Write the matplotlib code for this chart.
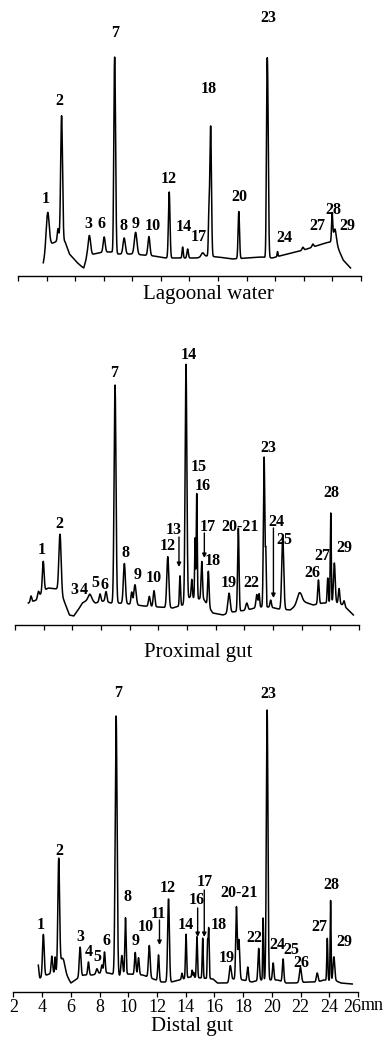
import numpy as np
import matplotlib
matplotlib.use("Agg")
import matplotlib.pyplot as plt
from matplotlib.transforms import ScaledTranslation

# ---------------- data ----------------
panel_titles = ["Lagoonal water", "Proximal gut", "Distal gut"]
tick_values = [2, 4, 6, 8, 10, 12, 14, 16, 18, 20, 22, 24, 26]
tick_labels = ["2", "4", "6", "8", "10", "12", "14", "16", "18", "20", "22", "24", "26"]
unit_label = "mn"

# Lagoonal water: baseline (time, signal) and peaks (time, amplitude, width)
lag_base_t = [3.77, 3.95, 4.3, 4.9, 5.3, 5.6, 6.1, 6.4, 6.6, 6.8, 7.3, 8.0, 8.6, 9.0, 10.0, 11.5, 12.3,
              13.0, 14.5, 15.2, 16.0, 17.0, 18.0, 19.0, 19.8, 20.3, 22.0, 23.5, 24.2, 24.45, 24.75, 25.27]
lag_base_h = [13, 25, 32, 36, 34, 22, 14, 10, 8, 18, 22, 24, 24, 22, 22, 20, 18,
              18, 18, 20, 19, 17, 18, 19, 18, 20, 26, 33, 35, 26, 16, 8]
lag_pk_t = [4.08, 4.80, 5.05, 6.99, 8.03, 8.72, 8.78, 9.43, 10.23, 11.16, 12.58, 13.52, 13.87,
            14.92, 15.36, 15.48, 17.45, 19.40, 19.46, 20.16, 21.93, 22.63, 23.98, 24.17]
lag_pk_a = [36, 12, 125, 21, 15, 60, 170, 16, 22, 19, 66, 11, 9,
            4, 40, 130, 47, 60, 180, 5, 3, 3, 27, 12]
lag_pk_s = [0.10, 0.05, 0.065, 0.09, 0.07, 0.04, 0.055, 0.08, 0.09, 0.07, 0.055, 0.04, 0.05,
            0.10, 0.04, 0.055, 0.05, 0.035, 0.055, 0.03, 0.06, 0.06, 0.04, 0.10]

# Proximal gut
prox_base_t = [2.93, 3.5, 3.9, 4.3, 4.9, 5.4, 5.8, 6.1, 6.4, 6.7, 7.2, 7.6, 8.2, 8.7, 9.2, 10.0, 11.0,
               12.0, 13.0, 13.7, 14.2, 15.2, 15.8, 16.5, 17.2, 18.2, 19.0, 19.8, 20.4, 21.2, 22.0,
               22.8, 23.5, 24.5, 24.9, 25.61]
prox_base_h = [22, 25, 33, 37, 36, 25, 10, 9, 15, 22, 26, 22, 24, 22, 22, 21, 19,
               18, 17, 20, 28, 25, 12, 10, 13, 15, 18, 18, 16, 15, 24,
               20, 22, 22, 20, 10]
prox_pk_t = [3.12, 3.63, 3.97, 5.14, 7.23, 7.93, 8.35, 8.98, 9.63, 10.14, 10.37, 11.37, 11.70,
             12.66, 13.51, 13.93, 14.33, 14.56, 14.68, 15.03, 15.49, 16.93, 17.58, 18.17, 18.87,
             19.03, 19.38, 19.50, 19.84, 20.68, 21.84, 23.17, 23.82, 24.03, 24.28, 24.61, 24.96]
prox_pk_a = [6, 6, 30, 60, 5, 8, 10, 218, 40, 12, 20, 10, 16,
             51, 30, 237, 18, 60, 105, 38, 35, 20, 83, 7, 13,
             13, 150, 50, 7, 72, 10, 24, 25, 90, 40, 15, 5]
prox_pk_s = [0.05, 0.06, 0.06, 0.08, 0.12, 0.06, 0.06, 0.065, 0.07, 0.05, 0.08, 0.06, 0.06,
             0.07, 0.04, 0.06, 0.04, 0.03, 0.035, 0.05, 0.05, 0.08, 0.05, 0.07, 0.06,
             0.04, 0.05, 0.03, 0.05, 0.07, 0.15, 0.05, 0.04, 0.035, 0.06, 0.05, 0.05]

# Distal gut
dist_base_t = [3.73, 3.85, 4.3, 4.9, 5.5, 5.8, 6.0, 6.3, 6.9, 7.5, 8.0, 8.6, 9.4, 10.0, 11.0, 12.3,
               13.0, 13.8, 14.3, 15.9, 16.2, 17.0, 17.3, 18.0, 18.6, 19.2, 19.8, 20.4, 21.0, 21.6,
               22.5, 23.2, 23.6, 24.5, 24.8, 25.6]
dist_base_h = [18, 14, 17, 20, 22, 14, 9, 12, 17, 17, 19, 19, 16, 18, 17, 10,
               10, 13, 15, 13, 9, 9, 13, 12, 10, 12, 12, 12, 9, 9,
               10, 10, 12, 11, 9, 8]
dist_pk_t = [3.71, 4.08, 4.67, 4.90, 5.15, 5.40, 6.64, 7.22, 7.81, 8.16, 8.34, 9.15, 9.55, 9.80,
             10.48, 10.71, 11.46, 12.10, 12.80, 13.74, 14.02, 14.44, 14.55, 14.78, 15.18, 15.52,
             15.60, 17.10, 17.53, 17.70, 18.32, 19.08, 19.39, 19.67, 20.09, 20.78, 21.99, 23.16,
             23.86, 24.09, 24.32]
dist_pk_a = [10, 42, 17, 15, 110, 12, 30, 13, 5, 8, 21, 259, 20, 57,
             22, 17, 32, 26, 83, 6, 44, 7, 5, 41, 40, 35,
             50, 16, 72, 40, 14, 32, 62, 270, 17, 23, 15, 9,
             42, 80, 24]
dist_pk_s = [0.04, 0.06, 0.05, 0.03, 0.06, 0.15, 0.06, 0.05, 0.06, 0.05, 0.05, 0.065, 0.06, 0.045,
             0.05, 0.05, 0.06, 0.05, 0.06, 0.04, 0.04, 0.03, 0.03, 0.04, 0.035, 0.03,
             0.035, 0.07, 0.05, 0.06, 0.05, 0.05, 0.03, 0.055, 0.05, 0.05, 0.07, 0.06,
             0.035, 0.03, 0.06]

# peak labels (text, time, signal)
lag_lab = [("1", 3.96, 77), ("2", 4.87, 175), ("3", 6.90, 52), ("6", 7.87, 52), ("7", 8.78, 243),
           ("8", 9.41, 50), ("9", 10.25, 52), ("10", 11.44, 50), ("12", 12.56, 97), ("14", 13.61, 49),
           ("17", 14.66, 39), ("18", 15.36, 187), ("20", 17.52, 79), ("23", 19.48, 258),
           ("24", 20.67, 38), ("27", 22.98, 50), ("28", 24.10, 66), ("29", 25.08, 50)]
prox_lab = [("1", 3.88, 75), ("2", 5.07, 101), ("3", 6.12, 35), ("4", 6.82, 35), ("5", 7.58, 42),
            ("6", 8.21, 40), ("7", 8.91, 252), ("8", 9.68, 72), ("9", 10.58, 50), ("10", 11.70, 47),
            ("12", 12.68, 79), ("13", 13.10, 95), ("14", 14.14, 270), ("15", 14.84, 158),
            ("16", 15.12, 139), ("17", 15.47, 98), ("18", 15.82, 64), ("19", 16.93, 42),
            ("20-21", 17.70, 98), ("22", 18.47, 42), ("23", 19.66, 177), ("24", 20.21, 103),
            ("25", 20.77, 85), ("26", 22.73, 52), ("27", 23.42, 69), ("28", 24.05, 132), ("29", 24.96, 77)]
dist_lab = [("1", 3.92, 67), ("2", 5.18, 141), ("3", 6.64, 55), ("4", 7.27, 40), ("5", 7.83, 35),
            ("6", 8.45, 51), ("7", 9.29, 299), ("8", 9.92, 95), ("9", 10.48, 51), ("10", 11.18, 65),
            ("11", 12.08, 78), ("12", 12.78, 104), ("14", 13.97, 67), ("16", 14.74, 92),
            ("17", 15.29, 110), ("18", 16.27, 67), ("19", 16.83, 34), ("20-21", 17.74, 99),
            ("22", 18.78, 54), ("23", 19.76, 298), ("24", 20.39, 47), ("25", 21.37, 42),
            ("26", 22.06, 29), ("27", 23.32, 65), ("28", 24.16, 107), ("29", 25.06, 50)]

# arrows (time, start signal, end signal)
prox_arrows = [(13.44, 88, 58), (15.21, 92, 67), (20.03, 97, 27)]
dist_arrows = [(12.17, 72, 47), (14.83, 84, 55), (15.29, 102, 55)]

# ---------------- drawing ----------------
W, H = 392, 1042
fig = plt.figure(figsize=(W / 100, H / 100), dpi=100)
fig.patch.set_facecolor("white")

serif = ["Liberation Serif", "DejaVu Serif"]

# (left_px, right_px, axis_y_px, height_px)
layout = [(18, 361, 276, 270), (15, 359, 625, 290), (13.5, 358, 992, 300)]
title_pos = [(208, 299), (198, 657), (192, 1031)]

panels = [
    (lag_base_t, lag_base_h, lag_pk_t, lag_pk_a, lag_pk_s, lag_lab, []),
    (prox_base_t, prox_base_h, prox_pk_t, prox_pk_a, prox_pk_s, prox_lab, prox_arrows),
    (dist_base_t, dist_base_h, dist_pk_t, dist_pk_a, dist_pk_s, dist_lab, dist_arrows),
]

for i, (bt, bh, pt, pa, ps, labs, arrows) in enumerate(panels):
    l, r, ay, hp = layout[i]
    ax = fig.add_axes([l / W, (H - ay) / H, (r - l) / W, hp / H])
    t = np.arange(bt[0], bt[-1], 0.004)
    y = np.interp(t, bt, bh)
    for c, a, s in zip(pt, pa, ps):
        y = y + a * np.exp(-0.5 * ((t - c) / s) ** 2)
    ax.plot(t, y, color="black", lw=1.1)
    ax.set_xlim(2, 26)
    ax.set_ylim(0, hp)
    for sp in ["top", "right", "left"]:
        ax.spines[sp].set_visible(False)
    ax.spines["bottom"].set_linewidth(1.0)
    ax.set_yticks([])
    ax.set_xticks(tick_values)
    ax.tick_params(axis="x", direction="out", length=3.5, width=0.9, pad=1.5)
    if i == 2:
        ax.set_xticklabels(tick_labels, fontfamily=serif, fontsize=13)
        last = ax.get_xticklabels()[-1]
        last.set_horizontalalignment("right")
        last.set_transform(last.get_transform() + ScaledTranslation(3 / 100, 0, fig.dpi_scale_trans))
        ax.text(1.0, 0, unit_label, transform=ax.transAxes + ScaledTranslation(3 / 100, -5.5 / 100, fig.dpi_scale_trans),
                ha="left", va="top", fontfamily=serif, fontsize=13, clip_on=False)
    else:
        ax.set_xticklabels([])
    ax.patch.set_alpha(0)
    for txt, tx, ty in labs:
        ax.text(tx, ty, txt, ha="center", va="center", fontfamily=serif,
                fontweight="bold", fontsize=11.5, clip_on=False)
    for tx, y0, y1 in arrows:
        ax.annotate("", xy=(tx, y1), xytext=(tx, y0),
                    arrowprops=dict(arrowstyle="-|>", lw=1.0, color="black",
                                    mutation_scale=6, shrinkA=0, shrinkB=0))
    tx, ty = title_pos[i]
    fig.text(tx / W, 1 - ty / H, panel_titles[i], ha="center", va="baseline",
             fontfamily=serif, fontsize=15)

fig.savefig("out.png", dpi=100)
